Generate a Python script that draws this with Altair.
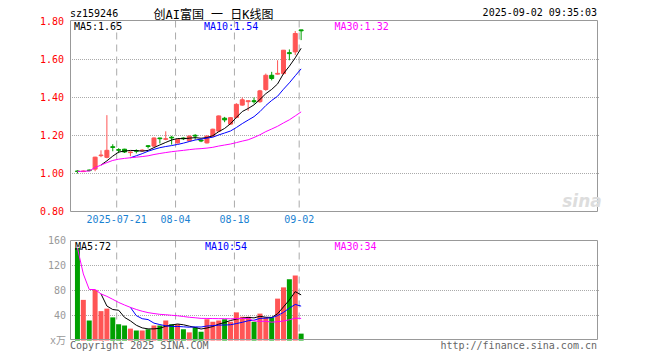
import altair as alt
import pandas as pd

# ---------------- data ----------------
opens = [1.013, 1.010, 1.018, 1.023, 1.094, 1.085, 1.141, 1.126, 1.128, 1.110,
         1.121, 1.120, 1.146, 1.144, 1.187, 1.180, 1.191, 1.161, 1.187, 1.172,
         1.201, 1.176, 1.161, 1.196, 1.223, 1.291, 1.260, 1.295, 1.360, 1.378,
         1.383, 1.378, 1.442, 1.517, 1.523, 1.526, 1.636, 1.640, 1.756]
highs = [1.017, 1.016, 1.021, 1.088, 1.122, 1.307, 1.154, 1.133, 1.130, 1.117,
         1.127, 1.128, 1.150, 1.190, 1.188, 1.222, 1.198, 1.182, 1.190, 1.200,
         1.207, 1.179, 1.200, 1.236, 1.305, 1.298, 1.296, 1.370, 1.400, 1.384,
         1.400, 1.440, 1.526, 1.535, 1.596, 1.650, 1.653, 1.750, 1.756]
lows = [1.000, 1.008, 1.012, 1.012, 1.086, 1.080, 1.117, 1.107, 1.108, 1.091,
        1.106, 1.115, 1.132, 1.142, 1.158, 1.175, 1.152, 1.158, 1.176, 1.170,
        1.178, 1.165, 1.158, 1.194, 1.220, 1.270, 1.257, 1.290, 1.357, 1.330,
        1.368, 1.372, 1.435, 1.490, 1.521, 1.520, 1.596, 1.623, 1.702]
closes = [1.011, 1.013, 1.015, 1.086, 1.097, 1.122, 1.137, 1.122, 1.113, 1.113,
          1.117, 1.123, 1.142, 1.187, 1.183, 1.183, 1.187, 1.180, 1.183, 1.197,
          1.197, 1.171, 1.197, 1.233, 1.303, 1.282, 1.294, 1.364, 1.388, 1.383,
          1.378, 1.435, 1.517, 1.500, 1.527, 1.649, 1.631, 1.737, 1.751]
volumes = [148, 65, 32, 81, 47, 51, 37, 26, 24, 19,
           16, 16, 18, 24, 24, 32, 26, 26, 18, 13,
           21, 14, 34, 30, 32, 34, 30, 45, 38, 38,
           30, 43, 37, 37, 67, 85, 98, 104, 11]

tick_index = [7, 17, 27, 38]
tick_labels = ["2025-07-21", "08-04", "08-18", "09-02"]
price_ticks = [0.80, 1.00, 1.20, 1.40, 1.60, 1.80]
price_grid = [1.00, 1.20, 1.40, 1.60]
vol_ticks = [0, 40, 80, 120, 160]
vol_unit = "x万"
vol_grid = [40, 80, 120]

code_text = "sz159246"
title_text = "创AI富国 一 日K线图"
stamp_text = "2025-09-02 09:35:03"
price_ma_labels = ["MA5:1.65", "MA10:1.54", "MA30:1.32"]
vol_ma_labels = ["MA5:72", "MA10:54", "MA30:34"]
copyright_text = "Copyright 2025 SINA.COM"
url_text = "http://finance.sina.com.cn"
logo_text = "sina"

# ---------------- styling / layout ----------------
W, H = 528, 320
SLOT = 6
MONO = "DejaVu Sans Mono, Noto Sans CJK SC"
RED = "#ff5555"
GREEN = "#00a000"
GRID = "#aaaaaa"
FRAME = "#999999"
MA_COLORS = ["#000000", "#0000ff", "#ff00ff"]
MA_N = [5, 10, 30]

x_scale = alt.Scale(domain=[0, W / SLOT], range=[0, W], nice=False, zero=False)
price_scale = alt.Scale(domain=[0.8, 1.8], range=[191.5, 1.5], nice=False, zero=False)
vol_scale = alt.Scale(domain=[0, 160], range=[320.5, 220.5], nice=False, zero=False)

candles = pd.DataFrame({
    "i": list(range(len(closes))),
    "open": opens, "high": highs, "low": lows, "close": closes, "vol": volumes,
})
base = alt.Chart(candles).transform_calculate(xc=f"datum.i + {2.5 / SLOT}")
updown = alt.when(alt.datum.close >= alt.datum.open).then(alt.value(RED)).otherwise(alt.value(GREEN))
one_row = pd.DataFrame({"a": [1]})
ticks_df = pd.DataFrame({"t": tick_index, "label": tick_labels})

X_C = alt.X("xc:Q", scale=x_scale, axis=None)


def ma_line(field, n, color, scale):
    ch = base.transform_window(
        ma=f"mean({field})", cnt="count()", frame=[-(n - 1), 0],
        sort=[alt.SortField("i")],
    )
    if n < 30:
        ch = ch.transform_filter(f"datum.cnt >= {n}")
    return ch.mark_line(strokeWidth=1, color=color).encode(
        x=X_C, y=alt.Y("ma:Q", scale=scale, axis=None)
    )


def grid_rules(vals, scale):
    return alt.Chart(pd.DataFrame({"v": vals})).mark_rule(
        color=GRID, strokeDash=[1, 1], strokeWidth=1
    ).encode(y=alt.Y("v:Q", scale=scale, axis=None), x=alt.value(0), x2=alt.value(W + 1))


def dash_rules(y0, y1):
    return alt.Chart(ticks_df).transform_calculate(
        tx=f"datum.t + {0.5 / SLOT}"
    ).mark_rule(color=GRID, strokeDash=[7, 5], strokeWidth=1).encode(
        x=alt.X("tx:Q", scale=x_scale, axis=None), y=alt.value(y0), y2=alt.value(y1)
    )


def frame(y0, y1):
    return alt.Chart(one_row).mark_rect(
        fillOpacity=0, stroke=FRAME, strokeWidth=1
    ).encode(x=alt.value(0.5), x2=alt.value(W - 0.5), y=alt.value(y0), y2=alt.value(y1))


def txt(s, x, y, color, align="left", size=10, font=MONO, **kw):
    return alt.Chart(one_row).mark_text(
        text=s, align=align, baseline="alphabetic", font=font, fontSize=size,
        color=color, **kw
    ).encode(x=alt.value(x), y=alt.value(y))


# ---------------- price panel ----------------
wick = base.mark_rule(strokeWidth=1).encode(
    x=X_C,
    y=alt.Y("low:Q", scale=price_scale, axis=None),
    y2="high:Q",
    color=updown,
)
body = base.mark_bar(size=4, strokeWidth=1, orient="vertical").encode(
    x=X_C,
    y=alt.Y("open:Q", scale=price_scale, axis=None),
    y2="close:Q",
    fill=updown,
    stroke=updown,
)
price_labels = alt.Chart(pd.DataFrame({"v": price_ticks})).transform_calculate(
    lbl="format(datum.v, '.2f')"
).mark_text(align="right", baseline="middle", font=MONO, fontSize=10, color="#ff0000").encode(
    y=alt.Y("v:Q", scale=price_scale, axis=None), x=alt.value(-6), text="lbl:N"
)
date_labels = alt.Chart(ticks_df).transform_calculate(
    tx=f"datum.t + {0.5 / SLOT}"
).mark_text(align="center", baseline="top", font=MONO, fontSize=10, color="#1a82d2").encode(
    x=alt.X("tx:Q", scale=x_scale, axis=None), y=alt.value(195), text="label:N"
)
price_layer = alt.layer(
    grid_rules(price_grid, price_scale),
    dash_rules(0.5, 191),
    wick,
    body,
    *[ma_line("close", n, c, price_scale) for n, c in zip(MA_N, MA_COLORS)],
    frame(0.5, 191.5),
    price_labels,
    date_labels,
)

# ---------------- volume panel ----------------
vbar = base.mark_bar(size=5, orient="vertical").encode(
    x=X_C,
    y=alt.Y("vol:Q", scale=vol_scale, axis=None, stack=None),
    color=updown,
)
vol_labels = alt.Chart(pd.DataFrame({"v": vol_ticks})).transform_calculate(
    lbl=f"datum.v == 0 ? '{vol_unit}' : format(datum.v, 'd')"
).mark_text(align="right", baseline="middle", font=MONO, fontSize=10, color="#999999").encode(
    y=alt.Y("v:Q", scale=vol_scale, axis=None), x=alt.value(-4), text="lbl:N"
)
vol_layer = alt.layer(
    grid_rules(vol_grid, vol_scale),
    dash_rules(220.5, 320),
    vbar,
    *[ma_line("vol", n, c, vol_scale) for n, c in zip(MA_N, MA_COLORS)],
    frame(220.5, 319.5),
    vol_labels,
)

# ---------------- annotations ----------------
texts = [
    txt(code_text, 0, -3.5, "#000000"),
    txt(title_text, 143.5, -1.5, "#000000", align="center", size=12),
    txt(stamp_text, W - 1, -4, "#000000", align="right"),
    txt(price_ma_labels[0], 4, 10, MA_COLORS[0]),
    txt(price_ma_labels[1], 134, 10, MA_COLORS[1]),
    txt(price_ma_labels[2], 264.5, 10, MA_COLORS[2]),
    txt(vol_ma_labels[0], 5, 230, MA_COLORS[0]),
    txt(vol_ma_labels[1], 135, 230, MA_COLORS[1]),
    txt(vol_ma_labels[2], 264.5, 230, MA_COLORS[2]),
    txt(copyright_text, 0, 329, "#666666"),
    txt(url_text, W - 1, 329, "#666666", align="right"),
    txt(logo_text, 512, 187, "#dddddd", align="center", size=17,
        font="DejaVu Sans", fontWeight="bold", fontStyle="italic"),
]

chart = alt.layer(price_layer, vol_layer, *texts).resolve_scale(
    y="independent"
).properties(
    width=W,
    height=H,
    autosize=alt.AutoSizeParams(type="none"),
    padding={"left": 62, "top": 12, "right": 50, "bottom": 20},
).configure_view(strokeWidth=0)

chart.save("out.html", embed_options={"renderer": "svg", "actions": False})
